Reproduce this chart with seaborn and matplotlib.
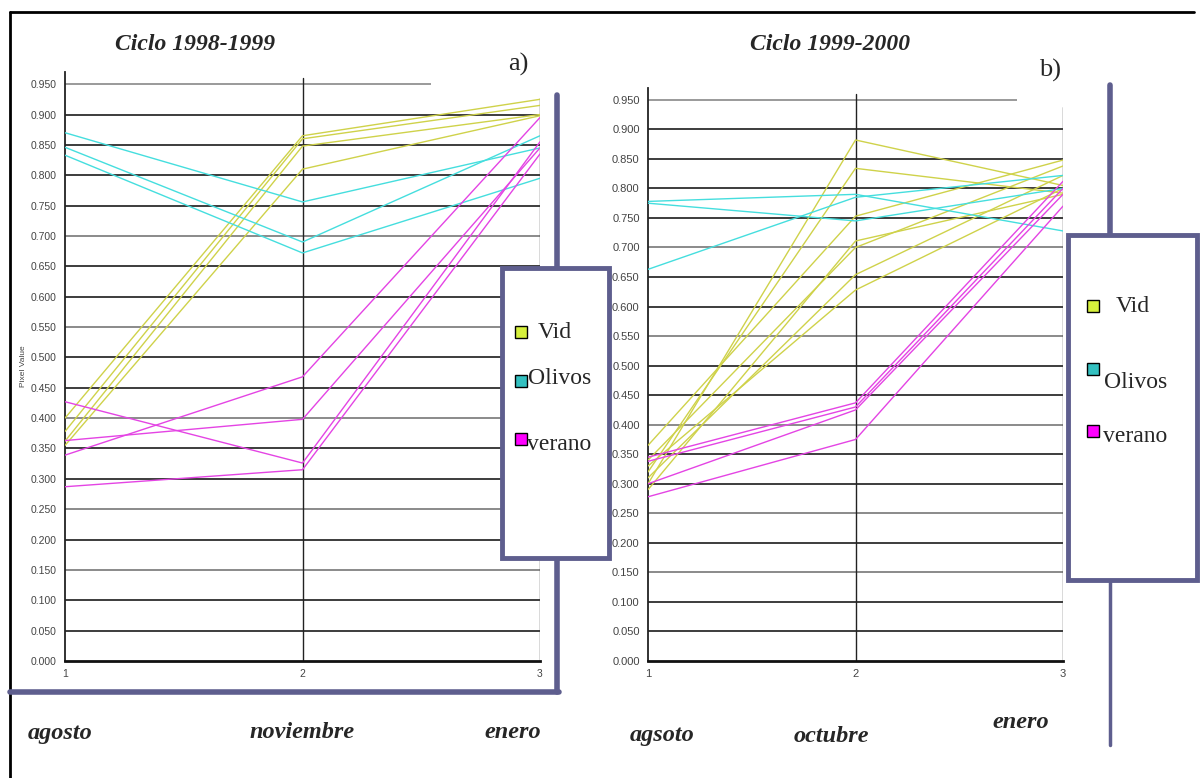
import numpy as np
import pandas as pd
import seaborn as sns
import matplotlib.pyplot as plt
from matplotlib.patches import Rectangle
from matplotlib.lines import Line2D

# --- data ---
meses = [1, 2, 3]

# a) Ciclo 1998-1999
vid_a = [[0.400, 0.865, 0.925], [0.378, 0.860, 0.915], [0.362, 0.848, 0.900], [0.355, 0.810, 0.898]]
olivos_a = [[0.870, 0.756, 0.845], [0.846, 0.690, 0.865], [0.833, 0.672, 0.795]]
verano_a = [[0.427, 0.326, 0.855], [0.363, 0.398, 0.845], [0.339, 0.468, 0.895], [0.287, 0.315, 0.835]]

# b) Ciclo 1999-2000
vid_b = [[0.300, 0.882, 0.805], [0.320, 0.834, 0.792], [0.365, 0.753, 0.848], [0.290, 0.711, 0.790],
         [0.340, 0.700, 0.838], [0.310, 0.654, 0.822], [0.330, 0.628, 0.800]]
olivos_b = [[0.778, 0.790, 0.728], [0.775, 0.745, 0.800], [0.663, 0.785, 0.822]]
verano_b = [[0.345, 0.437, 0.812], [0.338, 0.430, 0.800], [0.300, 0.425, 0.790], [0.278, 0.375, 0.770]]

clases = ['Vid', 'Olivos', 'verano']
etiquetas_a = ['agosto', 'noviembre', 'enero']
etiquetas_b = ['agsoto', 'octubre', 'enero']
yticks = np.round(np.arange(0, 0.951, 0.05), 3)

colores = {'Vid': '#cfd24a', 'Olivos': '#45dede', 'verano': '#e444e4'}
colores_leyenda = {'Vid': '#d6f03c', 'Olivos': '#33c0c0', 'verano': '#ff00ff'}
gris_claro = [0.15, 0.25, 0.40, 0.55, 0.70]
morado = '#5e5e8e'

W, H = 1201, 778


def to_long(vid, olivos, verano):
    rows = []
    for clase, lineas in zip(clases, [vid, olivos, verano]):
        for i, vals in enumerate(lineas):
            for m, v in zip(meses, vals):
                rows.append({'mes': m, 'valor': v, 'clase': clase, 'linea': f'{clase}{i}'})
    return pd.DataFrame(rows)


def rect(x0, y0, x1, y1):
    # pixel box -> figure fraction [left, bottom, width, height]
    return [x0 / W, 1 - y1 / H, (x1 - x0) / W, (y1 - y0) / H]


def fx(x):
    return x / W


def fy(y):
    return 1 - y / H


sns.set_style('white')
plt.rcParams['font.family'] = ['Liberation Serif', 'DejaVu Serif']

fig = plt.figure(figsize=(W / 100, H / 100), dpi=100)

ax_a = fig.add_axes(rect(65, 72, 540, 661))
ax_b = fig.add_axes(rect(648, 88, 1063, 661))

paneles = [
    (ax_a, to_long(vid_a, olivos_a, verano_a), 2.54, 0.928, 7.5),
    (ax_b, to_long(vid_b, olivos_b, verano_b), 2.78, 0.937, 8),
]

for ax, df, fin_top, top_x3, fs in paneles:
    ax.set_xlim(1, 3)
    ax.set_ylim(0, 0.97)
    # grid
    for y in yticks[1:-1]:
        c = '#8a8a8a' if y in gris_claro else '#3c3c3c'
        ax.hlines(y, 1, 3, colors=c, lw=1.4, zorder=1)
    ax.hlines(0.95, 1, fin_top, colors='#9a9a9a', lw=1.4, zorder=1)
    ax.axvline(2, ymax=0.95 / 0.97 + 0.01, color='#222222', lw=1.0, zorder=1)
    ax.axvline(3, ymax=top_x3 / 0.97, color='#444444', lw=1.0, zorder=1)

    sns.lineplot(data=df, x='mes', y='valor', hue='clase', units='linea', estimator=None,
                 palette=colores, legend=False, lw=1.0, ax=ax, zorder=3)

    sns.despine(ax=ax, top=True, right=True)
    ax.spines['left'].set_color('#222222')
    ax.spines['left'].set_linewidth(1.3)
    ax.spines['bottom'].set_color('#111111')
    ax.spines['bottom'].set_linewidth(2.0)
    ax.set_yticks(yticks)
    ax.set_yticklabels([f'{v:.3f}' for v in yticks])
    ax.set_xticks(meses)
    ax.set_xticklabels([str(m) for m in meses])
    ax.tick_params(axis='both', direction='out', length=4, width=0.8, color='#555555',
                   labelcolor='#444444', pad=2)
    for lab in ax.get_yticklabels() + ax.get_xticklabels():
        lab.set_family(['Liberation Sans', 'DejaVu Sans'])
        lab.set_fontsize(fs)
    ax.set_xlabel('')
    ax.set_ylabel('')

ax_a.set_ylabel('Pixel Value', fontsize=6, color='#444444',
                family=['Liberation Sans', 'DejaVu Sans'], labelpad=3)

# outer frame
fig.add_artist(Line2D([fx(10), fx(10)], [fy(12), fy(778)], color='black', lw=2))
fig.add_artist(Line2D([fx(10), fx(1194)], [fy(12), fy(12)], color='black', lw=2))

# left panel frame
fig.add_artist(Line2D([fx(557), fx(557)], [fy(95), fy(692)], color=morado, lw=4))
fig.add_artist(Line2D([fx(10), fx(559)], [fy(692), fy(692)], color=morado, lw=4))

# right panel frame lines
fig.add_artist(Line2D([fx(1110), fx(1110)], [fy(85), fy(235)], color=morado, lw=4))
fig.add_artist(Line2D([fx(1110), fx(1110)], [fy(580), fy(745)], color=morado, lw=2.5))


def leyenda(x0, y0, x1, y1, items):
    fig.add_artist(Rectangle((fx(x0), fy(y1)), fx(x1) - fx(x0), fy(y0) - fy(y1),
                             transform=fig.transFigure, facecolor='white',
                             edgecolor=morado, lw=3.5, zorder=5))
    for clase, (sx, sy, tx, ty) in zip(clases, items):
        fig.add_artist(Rectangle((fx(sx), fy(sy + 12)), 12 / W, 12 / H,
                                 transform=fig.transFigure, facecolor=colores_leyenda[clase],
                                 edgecolor='black', lw=1, zorder=6))
        fig.text(fx(tx), fy(ty), clase, fontsize=17, ha='left', va='center', zorder=7)


leyenda(502, 268, 609, 558, [(515, 326, 538, 333), (515, 375, 528, 378), (515, 433, 527, 444)])
leyenda(1068, 235, 1197, 580, [(1087, 300, 1116, 306), (1087, 363, 1104, 382), (1087, 425, 1103, 436)])

# titles and labels
fig.text(fx(195), fy(44), 'Ciclo 1998-1999', fontsize=17, fontweight='bold', fontstyle='italic',
         ha='center', va='center')
fig.text(fx(830), fy(44), 'Ciclo 1999-2000', fontsize=17, fontweight='bold', fontstyle='italic',
         ha='center', va='center')
fig.text(fx(518), fy(64), 'a)', fontsize=19, ha='center', va='center')
fig.text(fx(1050), fy(70), 'b)', fontsize=19, ha='center', va='center')

for x, t in zip([60, 302, 513], etiquetas_a):
    fig.text(fx(x), fy(733), t, fontsize=17.5, fontweight='bold', fontstyle='italic',
             ha='center', va='center')
for x, y, t in zip([662, 831, 1021], [736, 736, 723], etiquetas_b):
    fig.text(fx(x), fy(y), t, fontsize=17.5, fontweight='bold', fontstyle='italic',
             ha='center', va='center')

fig.savefig('out.png', dpi=100, facecolor='white')
